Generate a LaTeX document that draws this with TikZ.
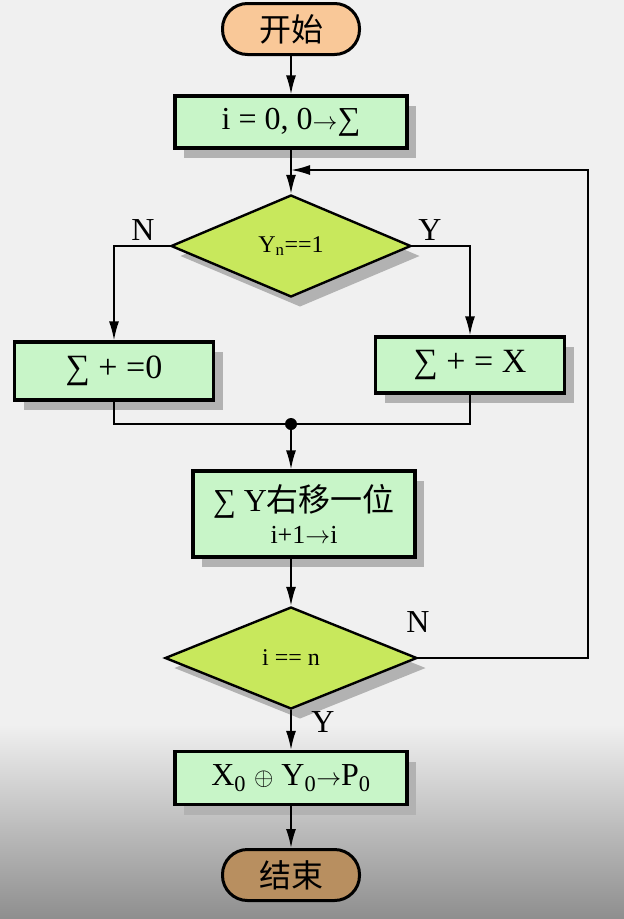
\documentclass[tikz,border=0pt]{standalone}
\usepackage{fontspec}
\setmainfont{Liberation Serif}
\newfontfamily\cjk{Noto Sans CJK SC}
\usetikzlibrary{arrows.meta,shapes.geometric,shadows,positioning}
\definecolor{bg}{HTML}{F0F0F0}
\definecolor{bgdark}{HTML}{8E8E8E}
\definecolor{boxgreen}{HTML}{C8F5C8}
\definecolor{condgreen}{HTML}{C8E85C}
\definecolor{startpeach}{HTML}{F9C898}
\definecolor{stopbrown}{HTML}{B88F60}

\begin{document}
\begin{tikzpicture}[x=1pt, y=-1pt, font=\fontsize{32}{36}\selectfont,
  shd/.style={drop shadow={shadow xshift=9pt, shadow yshift=-10pt, fill=black!30, opacity=1}},
  box/.style={draw, line width=3.2pt, fill=boxgreen, inner sep=0pt, shd},
  cond/.style={diamond, draw, line width=2.4pt, fill=condgreen, inner sep=0pt, aspect=2.4, shd,
    font=\fontsize{24}{28}\selectfont},
  term/.style={draw, line width=3pt, rounded corners=25pt, minimum width=137pt, minimum height=51pt,
    inner sep=0pt, font=\fontsize{32}{36}\selectfont\cjk},
  arr/.style={line width=1.8pt, -{Latex[length=19pt,width=10pt]}},
  lne/.style={line width=1.8pt},
  lbl/.style={inner sep=0pt, font=\fontsize{32}{36}\selectfont}]
  % background
  \fill[bg] (0,0) rectangle (624,919);
  \shade[top color=bg, bottom color=bgdark] (0,725) rectangle (624,919);
  \useasboundingbox (0,0) rectangle (624,919);

  % nodes
  \node[term, fill=startpeach] (start) at (291,29) {开始};
  \node[box, minimum width=232pt, minimum height=52pt] (init) at (291,122) {i = 0, 0$\rightarrow$∑};
  \node[cond, minimum width=240pt, minimum height=102pt] (dec1) at (291,246) {Y\textsubscript{n}==1};
  \node[box, minimum width=199pt, minimum height=58pt, font=\fontsize{34}{38}\selectfont] (nobox) at (114,371) {∑ + =0};
  \node[box, minimum width=189pt, minimum height=56pt, font=\fontsize{34}{38}\selectfont] (yesbox) at (470,365) {∑ + = X};
  \fill (291,424) circle (6pt) coordinate (dot);
  \node[box, minimum width=222pt, minimum height=86pt, align=center] (shift) at (304,514)
    {∑ Y{\cjk 右移一位}\\[-4pt]{\fontsize{26}{30}\selectfont i+1$\rightarrow$i}};
  \node[cond, minimum width=252pt, minimum height=102pt] (dec2) at (291,658) {i == n};
  \node[box, minimum width=232pt, minimum height=53pt] (out) at (291,778)
    {X\textsubscript{0} $\oplus$ Y\textsubscript{0}$\rightarrow$P\textsubscript{0}};
  \node[term, fill=stopbrown] (stop) at (291,875) {结束};

  \coordinate (back) at (588,170);
  \coordinate (join) at (init.south |- back);

  % labels
  \node[lbl] (n1) at (143,230) {N};
  \node[lbl] (y1) at (430,230) {Y};
  \node[lbl] (n2) at (418,622) {N};
  \node[lbl] (y2) at (323,722) {Y};

  % connectors
  \draw[arr] (start) -- (init);
  \draw[arr] (init) -- (dec1);
  \draw[arr] (dec1.west) -| (nobox.north);
  \draw[arr] (dec1.east) -| (yesbox.north);
  \draw[lne] (nobox.south) |- (dot) -| (yesbox.south);
  \draw[arr] (dot) -- (dot |- shift.north);
  \draw[arr] (dec2.north |- shift.south) -- (dec2.north);
  \draw[arr] (dec2.east) -| (back) -- (join);
  \draw[arr] (dec2.south) -- (out.north);
  \draw[arr] (out) -- (stop);
\end{tikzpicture}
\end{document}
